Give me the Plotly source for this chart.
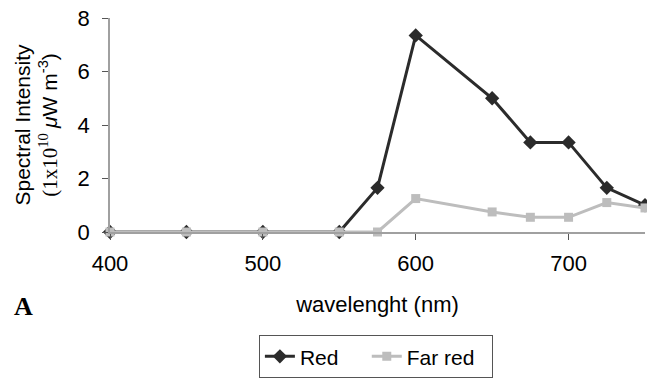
import plotly.graph_objects as go

wavelength = [400, 450, 500, 550, 575, 600, 650, 675, 700, 725, 750]
red = [0, 0, 0, 0, 1.65, 7.35, 5.0, 3.35, 3.35, 1.65, 1.0]
far_red = [0, 0, 0, 0, 0, 1.25, 0.75, 0.55, 0.55, 1.1, 0.9]
x_ticks = [400, 500, 600, 700]
y_ticks = [0, 2, 4, 6, 8]
nbsp = "\u00a0"

fig = go.Figure()
fig.add_trace(go.Scatter(x=wavelength, y=red, name="Red" + nbsp * 4, mode="lines+markers",
                         line=dict(color="#2b2b2b", width=3),
                         marker=dict(symbol="diamond", size=11, color="#2b2b2b"),
                         cliponaxis=False))
fig.add_trace(go.Scatter(x=wavelength, y=far_red, name="Far red" + nbsp * 2, mode="lines+markers",
                         line=dict(color="#bdbdbd", width=3),
                         marker=dict(symbol="square", size=9, color="#bdbdbd"),
                         cliponaxis=False))

fig.update_layout(
    width=647, height=380,
    margin=dict(l=110, r=2, t=18, b=148, autoexpand=False),
    plot_bgcolor="white", paper_bgcolor="white",
    font=dict(family="Liberation Sans, Arial, sans-serif", size=22, color="black"),
    xaxis=dict(range=[400, 750], tickvals=x_ticks, showgrid=False, zeroline=False,
               showline=True, linecolor="#a0a0a0", linewidth=1.5,
               ticks="outside", ticklen=6, tickcolor="#555", tickfont=dict(size=22),
               ticklabelstandoff=5,
               title=dict(text="wavelenght (nm)", standoff=21, font=dict(size=22))),
    yaxis=dict(range=[0, 8], tickvals=y_ticks, showgrid=False, zeroline=False,
               showline=True, linecolor="#a0a0a0", linewidth=1.5,
               ticks="outside", ticklen=6, tickcolor="#555", tickfont=dict(size=22),
               ticklabelstandoff=8,
               title=dict(text="Spectral Intensity<br><span style='font-family:Liberation Serif'>(1x10<sup>10</sup> </span><i>μ</i>W m<sup>-3</sup>)",
                          standoff=14, font=dict(size=21))),
    legend=dict(orientation="h", x=0.497, y=-0.482, xanchor="center", yanchor="top",
                bordercolor="#555", borderwidth=1, font=dict(size=21),
                itemwidth=30, tracegroupgap=0),
    showlegend=True,
)
fig.add_annotation(text="<b>A</b>", xref="paper", yref="paper", x=-0.183, y=-0.346,
                   xanchor="left", yanchor="middle", showarrow=False,
                   font=dict(family="Liberation Serif, Times New Roman, serif", size=26))

fig.write_html("out.html", config={"displayModeBar": False},
               post_script="document.body.style.margin='0';document.body.style.overflow='hidden';")
